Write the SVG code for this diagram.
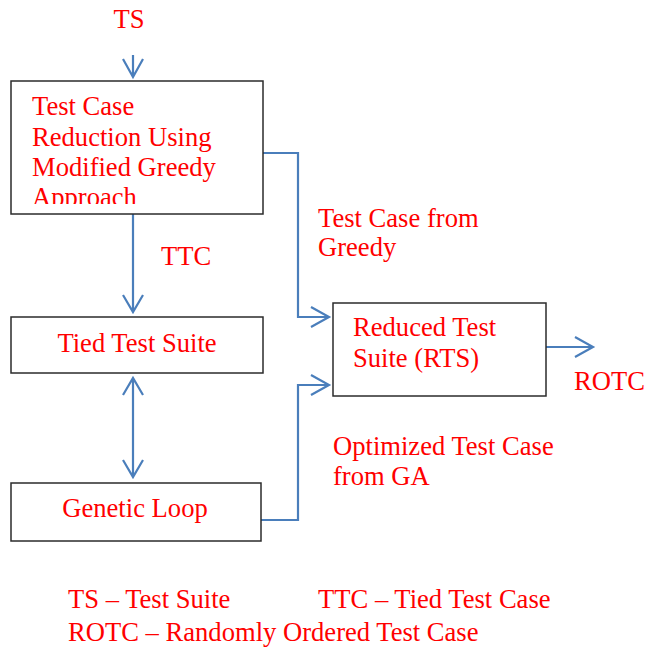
<svg xmlns="http://www.w3.org/2000/svg" width="647" height="648" viewBox="0 0 647 648">
<style>
.box{fill:#fff;stroke:#2b2b2b;stroke-width:1.5}
.t{font-family:"Liberation Serif","Times New Roman",serif;font-size:26.6px;fill:#ff0000}
.c{fill:none;stroke:#4a7ebb;stroke-width:2.2;stroke-linejoin:miter}
</style>
<defs>
<clipPath id="clip1"><rect x="12" y="82" width="250" height="122"/></clipPath>
</defs>
<rect width="647" height="648" fill="#fff"/>
<text class="t" x="129" y="28" text-anchor="middle">TS</text>
<g id="connectors">
<path class="c" d="M133 55V77M123 59L133 77L143 59"/>
<path class="c" d="M133 214V312M123 295L133 312L143 295"/>
<path class="c" d="M133 378V477M123 395L133 378L143 395M123 460L133 477L143 460"/>
<path class="c" d="M263 153H298V317H329M311 307L329 317L311 327"/>
<path class="c" d="M261 520H298V385H329M311 375L329 385L311 395"/>
<path class="c" d="M546 347H593M575 337L593 347L575 357"/>
</g>
<g id="greedy">
<rect class="box" x="11" y="81" width="252" height="133"/>
<g clip-path="url(#clip1)">
<text class="t" x="32" y="115">Test Case</text>
<text class="t" x="32" y="146">Reduction Using</text>
<text class="t" x="32" y="176">Modified Greedy</text>
<text class="t" x="32" y="206">Approach</text>
</g>
</g>
<g id="tied">
<rect class="box" x="11" y="317" width="252" height="56"/>
<text class="t" x="137" y="352" text-anchor="middle">Tied Test Suite</text>
</g>
<g id="genetic">
<rect class="box" x="11" y="483" width="250" height="58"/>
<text class="t" x="135" y="517" text-anchor="middle">Genetic Loop</text>
</g>
<g id="rts">
<rect class="box" x="333" y="303" width="213" height="93"/>
<text class="t" x="353" y="336">Reduced Test</text>
<text class="t" x="353" y="367">Suite (RTS)</text>
</g>
<text class="t" x="161" y="265">TTC</text>
<text class="t" x="318" y="227">Test Case from</text>
<text class="t" x="318" y="256">Greedy</text>
<text class="t" x="574" y="390">ROTC</text>
<text class="t" x="333" y="455">Optimized Test Case</text>
<text class="t" x="333" y="485">from GA</text>
<text class="t" x="68" y="608">TS – Test Suite</text>
<text class="t" x="318" y="608">TTC – Tied Test Case</text>
<text class="t" x="68" y="641">ROTC – Randomly Ordered Test Case</text>
</svg>
